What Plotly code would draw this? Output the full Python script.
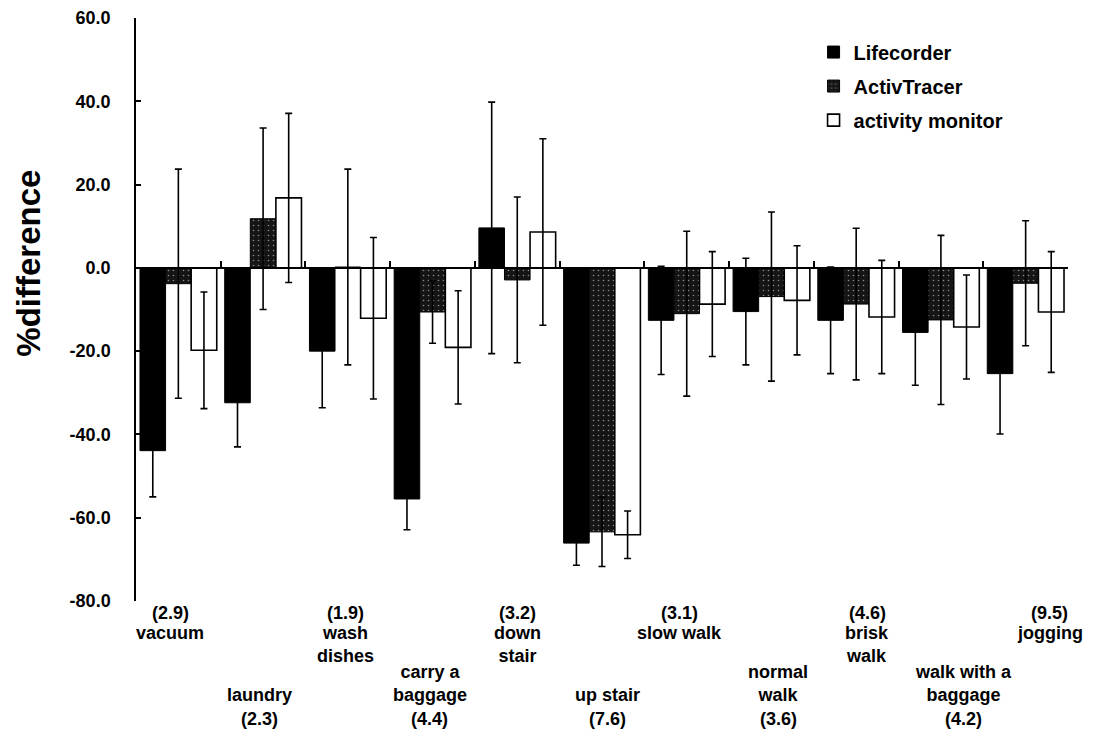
import plotly.graph_objects as go

# ---------------- data ----------------
activities = ["vacuum", "laundry", "wash dishes", "carry a baggage", "down stair",
              "up stair", "slow walk", "normal walk", "brisk walk",
              "walk with a baggage", "jogging"]
activity_labels = ["vacuum", "laundry", "wash<br>dishes", "carry a<br>baggage",
                   "down<br>stair", "up stair", "slow walk", "normal<br>walk",
                   "brisk<br>walk", "walk with a<br>baggage", "jogging"]
mets = [2.9, 2.3, 1.9, 4.4, 3.2, 7.6, 3.1, 3.6, 4.6, 4.2, 9.5]

lifecorder = [-43.9, -32.4, -20.0, -55.5, 9.6, -66.1, -12.6, -10.5, -12.6, -15.5, -25.4]
lifecorder_sd = [11.1, 10.6, 13.6, 7.4, 30.2, 5.3, 13.0, 12.8, 12.8, 12.7, 14.5]
activtracer = [-3.8, 11.8, 0.2, -10.6, -2.9, -63.4, -11.0, -6.9, -8.7, -12.5, -3.7]
activtracer_sd = [27.5, 21.8, 23.5, 7.5, 19.9, 8.3, 19.8, 20.3, 18.2, 20.3, 15.0]
monitor = [-19.8, 16.8, -12.1, -19.1, 8.6, -64.1, -8.7, -7.8, -11.8, -14.2, -10.6]
monitor_sd = [14.0, 20.3, 19.4, 13.6, 22.4, 5.7, 12.6, 13.1, 13.6, 12.5, 14.5]

y_ticks = [60, 40, 20, 0, -20, -40, -60, -80]
y_min, y_max = -80, 60

# ---------------- style ----------------
FONT = "Liberation Sans, Arial, sans-serif"
label_dx = [-8, -4, -2, -3, 0, 5, -7, 7, 11, 23, 24]  # layout tuning of label placement

err_style = dict(type="data", symmetric=True, color="black", thickness=1.6, width=3.5)

fig = go.Figure()
fig.add_trace(go.Bar(
    x=activities, y=lifecorder, name="Lifecorder", legendgroup="a",
    marker=dict(color="black", line=dict(color="black", width=1)),
    error_y=dict(array=lifecorder_sd, **err_style)))
fig.add_trace(go.Bar(
    x=activities, y=activtracer, name="ActivTracer", legendgroup="b",
    marker=dict(color="#151515", line=dict(color="black", width=1),
                pattern=dict(shape=".", fgcolor="white", bgcolor="#151515",
                             size=5, solidity=0.08)),
    error_y=dict(array=activtracer_sd, **err_style)))
fig.add_trace(go.Bar(
    x=activities, y=monitor, name="activity monitor", legendgroup="c",
    marker=dict(color="white", line=dict(color="black", width=1.6)),
    error_y=dict(array=monitor_sd, **err_style)))

annotations = []
for i, (cat, lab, met) in enumerate(zip(activities, activity_labels, mets)):
    met_txt = f"({met:.1f})"
    if i % 2 == 0:
        annotations.append(dict(x=cat, xref="x", y=0, yref="paper", yanchor="top",
                                yshift=0, xshift=label_dx[i], text=met_txt, showarrow=False))
        annotations.append(dict(x=cat, xref="x", y=0, yref="paper", yanchor="top",
                                yshift=-20, xshift=label_dx[i], text=lab, showarrow=False))
    else:
        annotations.append(dict(x=cat, xref="x", y=0, yref="paper", yanchor="middle",
                                yshift=-118, xshift=label_dx[i], text=met_txt, showarrow=False))
        annotations.append(dict(x=cat, xref="x", y=0, yref="paper", yanchor="bottom",
                                yshift=-106, xshift=label_dx[i], text=lab, showarrow=False))
for a in annotations:
    a["font"] = dict(family=FONT, size=18, color="black", weight="bold")
    a["align"] = "center"

annotations.append(dict(text="%difference", textangle=-90, showarrow=False,
                        xref="paper", yref="paper", x=-0.115, y=0.58,
                        xanchor="center", yanchor="middle",
                        font=dict(family=FONT, size=33, color="black", weight="bold")))

# page body adds an 8px offset; margins compensate
fig.update_layout(
    width=1098, height=737,
    margin=dict(l=128, r=38, t=10, b=144, autoexpand=False),
    paper_bgcolor="white", plot_bgcolor="white",
    barmode="group", bargap=0.094, bargroupgap=0,
    font=dict(family=FONT, color="black"),
    annotations=annotations,
    legend=dict(x=0.727, y=0.975, xanchor="left", yanchor="top",
                bgcolor="rgba(0,0,0,0)", tracegroupgap=5, traceorder="grouped",
                font=dict(family=FONT, size=20, color="black", weight="bold")),
    xaxis=dict(type="category", range=[-0.5, len(activities) - 0.5],
               anchor="free", position=(0 - y_min) / (y_max - y_min),
               showline=True, linecolor="black", linewidth=1.5,
               ticks="inside", tickson="boundaries", ticklen=6, tickwidth=1.5,
               tickcolor="black", showticklabels=False, showgrid=False,
               automargin=False),
    yaxis=dict(range=[y_min, y_max], tickvals=y_ticks,
               ticktext=[f"{v:.1f}" for v in y_ticks],
               ticks="inside", ticklen=5, tickwidth=1.5, tickcolor="black",
               showline=True, linecolor="black", linewidth=1.5,
               zeroline=False, showgrid=False, ticklabelstandoff=20,
               automargin=False,
               tickfont=dict(family=FONT, size=18, color="black", weight="bold")),
)

fig.write_html("out.html")
